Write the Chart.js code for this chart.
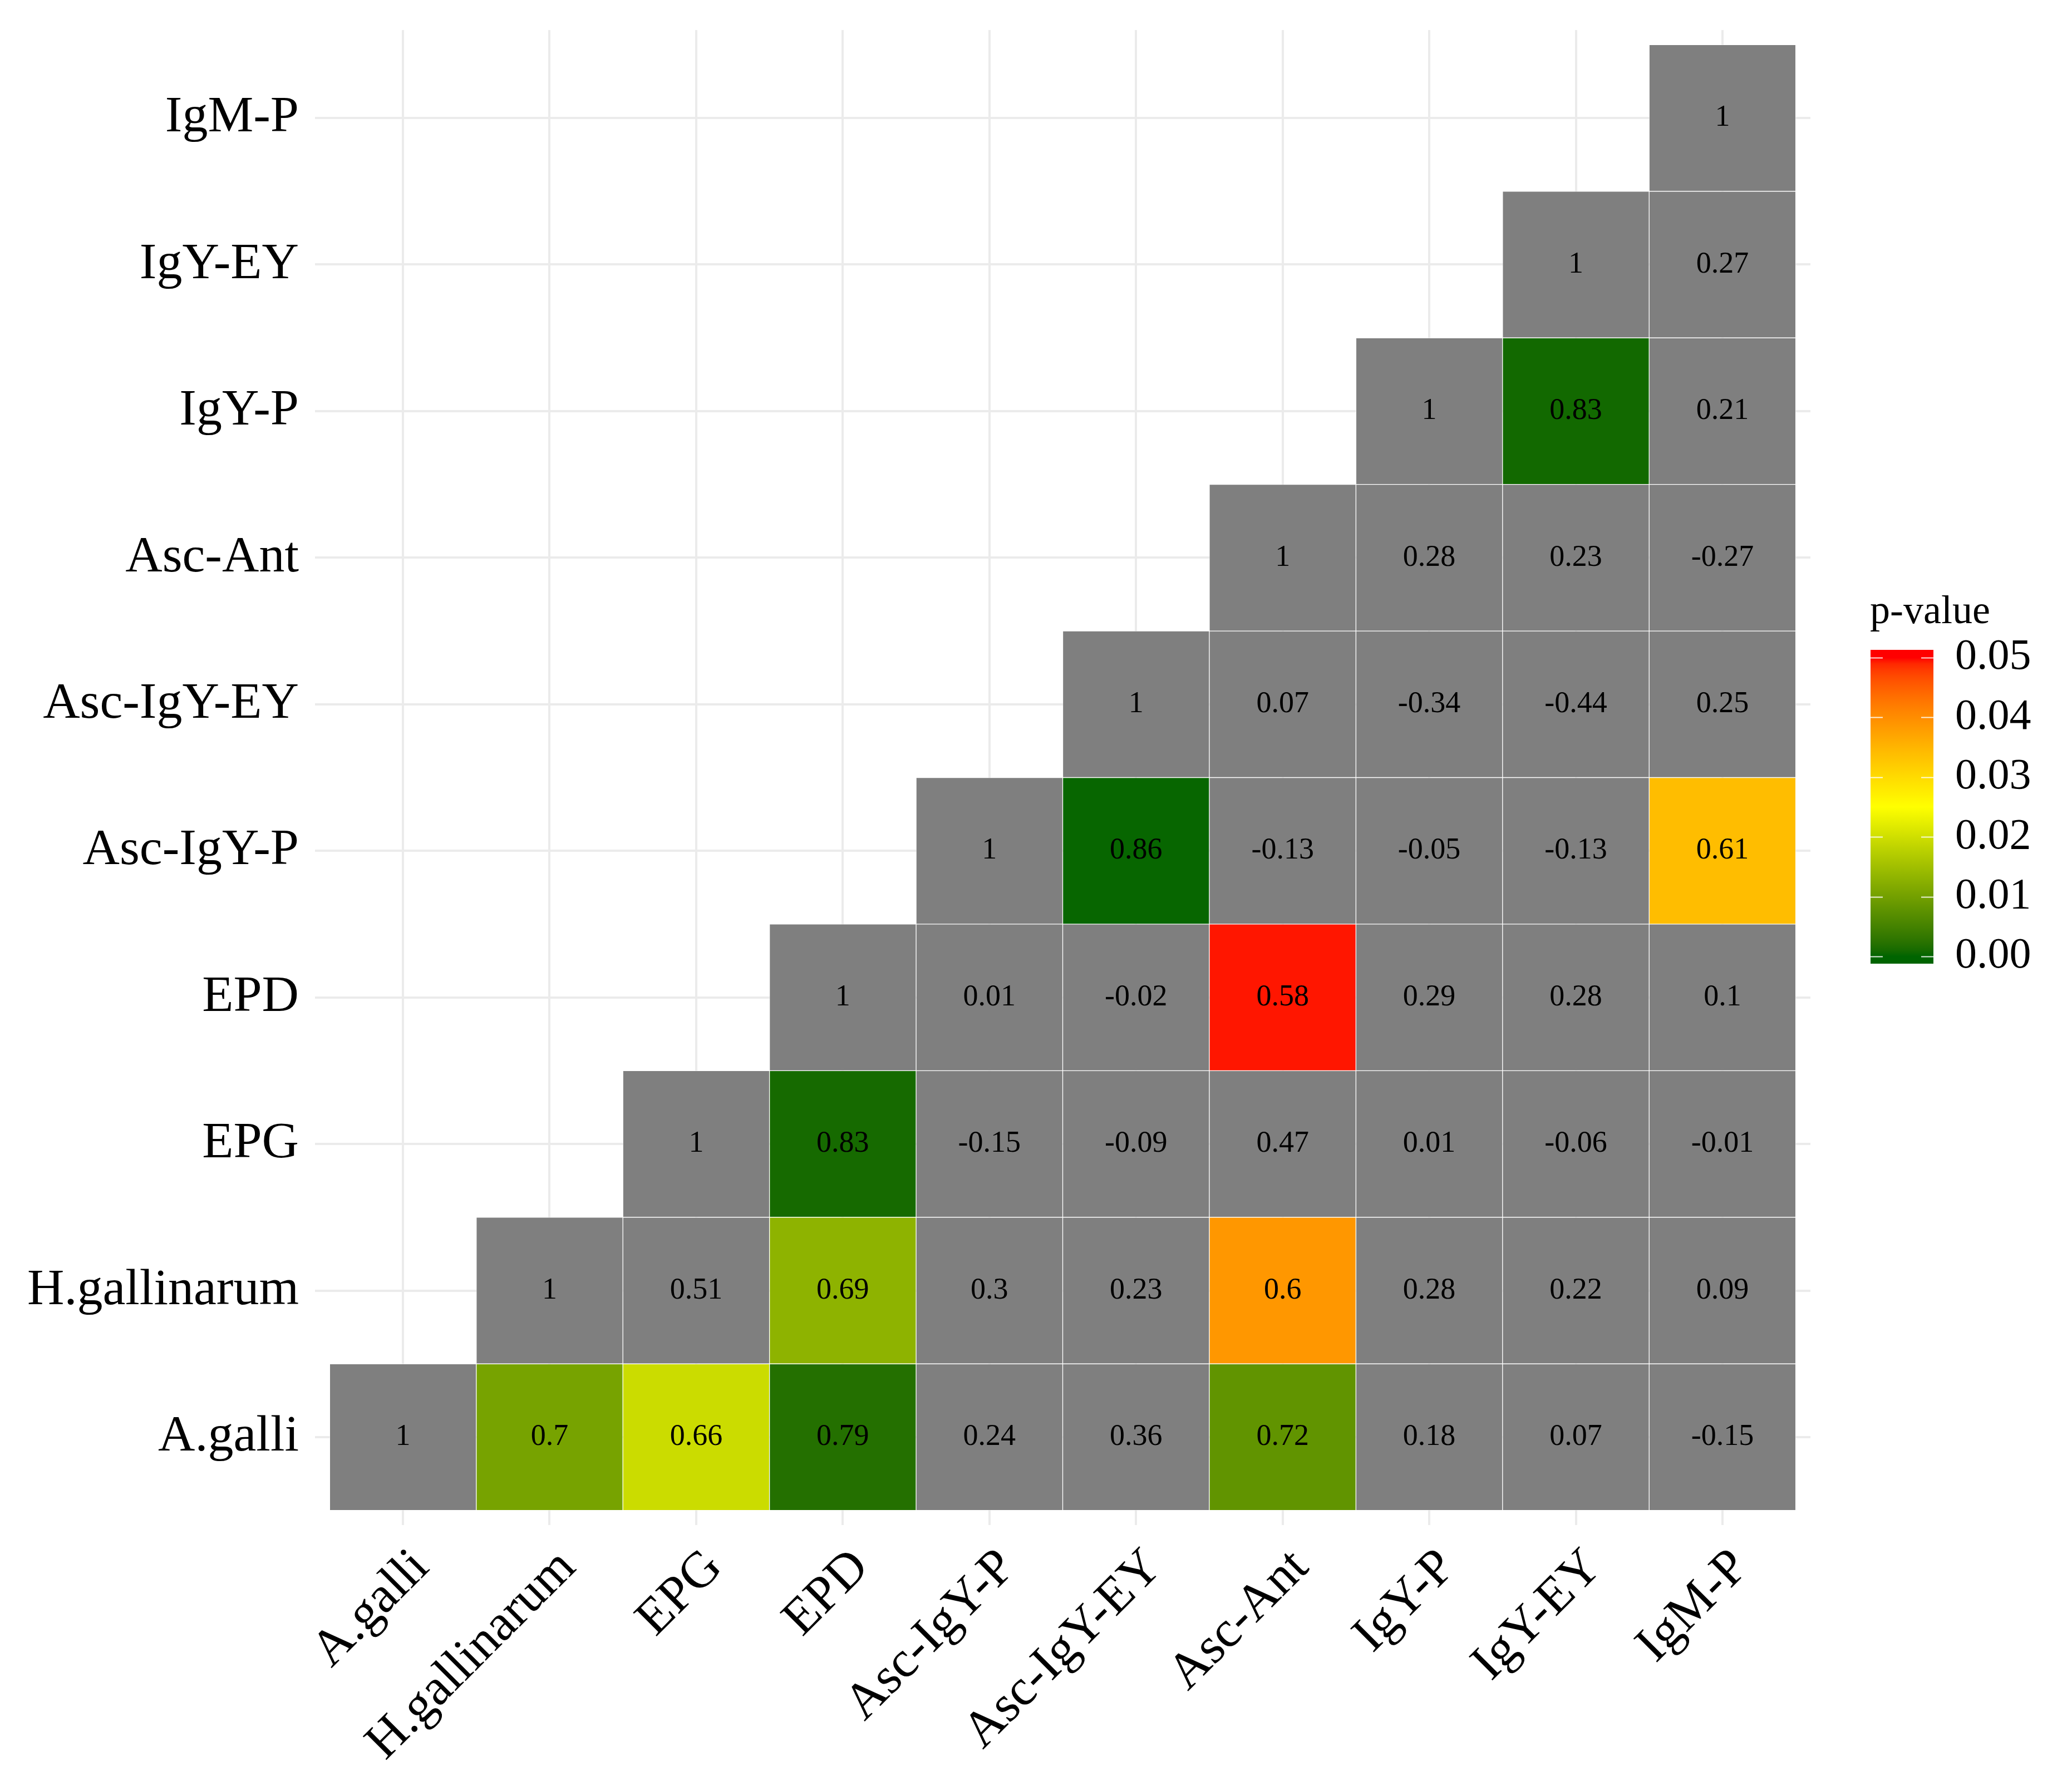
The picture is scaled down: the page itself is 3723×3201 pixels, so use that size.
<!DOCTYPE html>
<html>
<head>
<meta charset="utf-8">
<script src="https://cdn.jsdelivr.net/npm/chart.js@4.4.1/dist/chart.umd.min.js"></script>
<style>
    html, body { margin: 0; padding: 0; background: #fff; }
    #wrap { width: 3723px; height: 3201px; }
</style>
</head>
<body>
<div id="wrap"><canvas id="corrChart" width="3723" height="3201"></canvas></div>
<script>
const variables = ['A.galli', 'H.gallinarum', 'EPG', 'EPD', 'Asc-IgY-P', 'Asc-IgY-EY', 'Asc-Ant', 'IgY-P', 'IgY-EY', 'IgM-P'];

// correlation coefficients, row i holds the values for columns i..9
const corrRows = [
    [1, 0.7, 0.66, 0.79, 0.24, 0.36, 0.72, 0.18, 0.07, -0.15],
    [1, 0.51, 0.69, 0.3, 0.23, 0.6, 0.28, 0.22, 0.09],
    [1, 0.83, -0.15, -0.09, 0.47, 0.01, -0.06, -0.01],
    [1, 0.01, -0.02, 0.58, 0.29, 0.28, 0.1],
    [1, 0.86, -0.13, -0.05, -0.13, 0.61],
    [1, 0.07, -0.34, -0.44, 0.25],
    [1, 0.28, 0.23, -0.27],
    [1, 0.83, 0.21],
    [1, 0.27],
    [1]
];

// p-values of the significant pairs, same layout (null = not significant, grey)
const pRows = [
    [null, 0.0105, 0.0195, 0.002, null, null, 0.0081, null, null, null],
    [null, null, 0.013, null, null, 0.0388, null, null, null],
    [null, 0.001, null, null, null, null, null, null],
    [null, null, null, 0.0496, null, null, null],
    [null, 0.0003, null, null, null, 0.034],
    [null, null, null, null, null],
    [null, null, null, null],
    [null, 0.0008, null],
    [null, null],
    [null]
];

const legendTicks = [0, 0.01, 0.02, 0.03, 0.04, 0.05];
const pMax = 0.05;

const SERIF = "'Liberation Serif', 'Times New Roman', serif";
const GREY = '#7f7f7f';

// --- colour ramp darkgreen -> yellow -> red, interpolated in Lab like ggplot ---
const WHITE = [0.95047, 1, 1.08883];
const toLin = c => { c /= 255; return c <= 0.04045 ? c / 12.92 : Math.pow((c + 0.055) / 1.055, 2.4); };
const fromLin = c => {
    c = c <= 0.0031308 ? 12.92 * c : 1.055 * Math.pow(c, 1 / 2.4) - 0.055;
    return Math.round(Math.min(1, Math.max(0, c)) * 255);
};
const hexToLab = (hex) => {
    const r = toLin(parseInt(hex.slice(1, 3), 16));
    const g = toLin(parseInt(hex.slice(3, 5), 16));
    const b = toLin(parseInt(hex.slice(5, 7), 16));
    const X = (0.4124 * r + 0.3576 * g + 0.1805 * b) / WHITE[0];
    const Y = (0.2126 * r + 0.7152 * g + 0.0722 * b) / WHITE[1];
    const Z = (0.0193 * r + 0.1192 * g + 0.9505 * b) / WHITE[2];
    const f = t => t > 0.008856 ? Math.cbrt(t) : 7.787 * t + 16 / 116;
    return [116 * f(Y) - 16, 500 * (f(X) - f(Y)), 200 * (f(Y) - f(Z))];
};
const labToRgb = (L, a, b) => {
    const fy = (L + 16) / 116, fx = fy + a / 500, fz = fy - b / 200;
    const inv = t => t * t * t > 0.008856 ? t * t * t : (t - 16 / 116) / 7.787;
    const X = inv(fx) * WHITE[0], Y = inv(fy) * WHITE[1], Z = inv(fz) * WHITE[2];
    const r = 3.2406 * X - 1.5372 * Y - 0.4986 * Z;
    const g = -0.9689 * X + 1.8758 * Y + 0.0415 * Z;
    const bl = 0.0557 * X - 0.2040 * Y + 1.0570 * Z;
    return `rgb(${fromLin(r)}, ${fromLin(g)}, ${fromLin(bl)})`;
};
const rampLab = ['#006400', '#ffff00', '#ff0000'].map(hexToLab);
const pColor = (p) => {
    let t = Math.min(1, Math.max(0, p / pMax)) * 2;
    const k = t >= 1 ? 1 : 0;
    t -= k;
    const A = rampLab[k], B = rampLab[k + 1];
    return labToRgb(A[0] + (B[0] - A[0]) * t, A[1] + (B[1] - A[1]) * t, A[2] + (B[2] - A[2]) * t);
};

// one tile per pair: floating bar spanning the row band
const cells = [];
corrRows.forEach((row, i) => {
    row.forEach((r, k) => {
        cells.push({ x: i + k, y: [i - 0.5, i + 0.5], r: r, p: pRows[i][k] });
    });
});

const cellLabels = {
    id: 'cellLabels',
    afterDatasetsDraw(chart) {
        const ctx = chart.ctx;
        const meta = chart.getDatasetMeta(0);
        ctx.save();
        ctx.font = `54px ${SERIF}`;
        ctx.fillStyle = '#000';
        ctx.textAlign = 'center';
        ctx.textBaseline = 'middle';
        meta.data.forEach((el, idx) => {
            const c = el.getCenterPoint();
            ctx.fillText(String(cells[idx].r), c.x, c.y);
        });
        ctx.restore();
    }
};

const pLegend = {
    id: 'pLegend',
    afterDraw(chart) {
        const ctx = chart.ctx;
        const barLeft = chart.chartArea.right + 108;
        const barW = 113;
        const barTop = 1168, barBottom = 1732;
        const yLo = 1719, yHi = 1182;
        const yFor = v => yLo - (v / pMax) * (yLo - yHi);

        ctx.save();
        const grad = ctx.createLinearGradient(0, yLo, 0, yHi);
        for (let s = 0; s <= 50; s++) {
            grad.addColorStop(s / 50, pColor(pMax * s / 50));
        }
        ctx.fillStyle = grad;
        ctx.fillRect(barLeft, barTop, barW, barBottom - barTop);

        ctx.strokeStyle = 'rgba(255,255,255,0.85)';
        ctx.lineWidth = 2;
        legendTicks.forEach(v => {
            const y = Math.round(yFor(v)) + 0.5;
            ctx.beginPath();
            ctx.moveTo(barLeft, y);
            ctx.lineTo(barLeft + 22, y);
            ctx.moveTo(barLeft + barW - 22, y);
            ctx.lineTo(barLeft + barW, y);
            ctx.stroke();
        });

        ctx.fillStyle = '#000';
        ctx.textAlign = 'left';
        ctx.textBaseline = 'middle';
        ctx.font = `78px ${SERIF}`;
        legendTicks.forEach(v => {
            ctx.fillText(v.toFixed(2), barLeft + barW + 39, yFor(v));
        });

        ctx.textBaseline = 'alphabetic';
        ctx.font = `72px ${SERIF}`;
        ctx.fillText('p-value', barLeft - 1, 1120);
        ctx.restore();
    }
};

// ticks on every category index (optionally nudged for the rotated labels)
const categoryTicks = (shift) => (scale) => {
    scale.ticks = variables.map((v, i) => ({ value: i + shift }));
};
const labelFor = (v) => variables[Math.round(v)];

const gridStyle = { color: '#ebebeb', lineWidth: 4, drawTicks: false, offset: false };
const tickFont = { family: SERIF, size: 92 };

new Chart(document.getElementById('corrChart').getContext('2d'), {
    type: 'bar',
    data: {
        datasets: [{
            data: cells,
            backgroundColor: (c) => (c.raw && c.raw.p != null) ? pColor(c.raw.p) : GREY,
            borderColor: 'rgba(255,255,255,0.55)',
            borderWidth: 1,
            borderSkipped: false,
            barPercentage: 1,
            categoryPercentage: 1
        }]
    },
    options: {
        responsive: false,
        devicePixelRatio: 1,
        animation: false,
        events: [],
        layout: { padding: { top: 54, right: 470, left: 0, bottom: 0 } },
        plugins: {
            legend: { display: false },
            tooltip: { enabled: false }
        },
        scales: {
            x: {
                type: 'linear',
                offset: false,
                min: -0.6,
                max: 9.6,
                afterBuildTicks: categoryTicks(0),
                afterFit: (s) => { s.height = 0; s.paddingLeft = 0; s.paddingRight = 0; },
                grid: gridStyle,
                border: { display: false },
                ticks: { display: false }
            },
            xLabels: {
                type: 'linear',
                axis: 'x',
                position: 'bottom',
                offset: false,
                min: -0.6,
                max: 9.6,
                afterBuildTicks: categoryTicks(0.125),
                afterFit: (s) => { s.height = 460; s.paddingLeft = 0; s.paddingRight = 0; },
                grid: { display: false, drawTicks: false },
                border: { display: false },
                ticks: {
                    callback: labelFor,
                    autoSkip: false,
                    minRotation: 45,
                    maxRotation: 45,
                    padding: 23,
                    color: '#000',
                    font: tickFont
                }
            },
            y: {
                type: 'linear',
                offset: false,
                min: -0.6,
                max: 9.6,
                afterBuildTicks: categoryTicks(0),
                afterFit: (s) => { s.width = 566; s.paddingTop = 0; s.paddingBottom = 0; },
                grid: gridStyle,
                border: { display: false },
                ticks: {
                    callback: labelFor,
                    autoSkip: false,
                    padding: 29,
                    color: '#000',
                    font: tickFont
                }
            }
        }
    },
    plugins: [cellLabels, pLegend]
});
</script>
</body>
</html>
